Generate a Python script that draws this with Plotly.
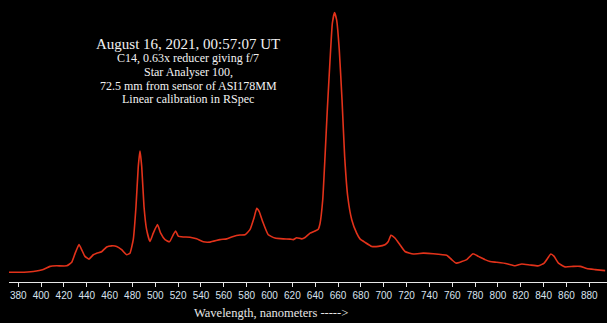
import plotly.graph_objects as go

# Wavelength (nm) and relative intensity
wavelength = [371.9, 381.5, 393.1, 401.9, 407.8, 413.6, 422.4, 426.8, 429.7, 433.2,
              435.5, 438.4, 441.9, 445.7, 448.7, 453.0, 457.4, 461.8, 466.2, 470.5,
              474.9, 477.8, 480.7, 483.1, 485.1, 486.6, 488.1, 490.1, 492.4, 495.3,
              498.2, 501.9, 504.7, 508.5, 512.4, 515.7, 517.8, 520.1, 524.5, 530.4,
              536.2, 542.0, 547.9, 556.6, 562.5, 568.3, 574.1, 578.5, 582.9, 586.4,
              588.8, 591.0, 594.0, 598.9, 604.8, 612.1, 617.9, 620.8, 623.8, 628.2,
              631.1, 635.5, 639.8, 642.7, 644.2, 646.6, 648.6, 650.6, 653.0, 655.0,
              656.9, 658.8, 661.1, 663.5, 665.8, 668.5, 672.0, 676.3, 679.2, 683.6,
              689.5, 695.2, 701.1, 704.0, 706.3, 709.8, 714.2, 718.6, 725.9, 734.6,
              743.4, 755.1, 759.5, 763.3, 768.3, 772.7, 778.2, 782.9, 788.7, 793.1,
              799.0, 807.8, 815.0, 820.9, 828.2, 835.5, 840.5, 843.7, 846.3, 849.2,
              853.0, 858.8, 866.1, 872.0, 877.8, 885.1, 893.9]
intensity = [0.036, 0.036, 0.039, 0.046, 0.058, 0.060, 0.060, 0.073, 0.105, 0.139,
             0.120, 0.095, 0.085, 0.101, 0.107, 0.112, 0.130, 0.134, 0.132, 0.120,
             0.101, 0.107, 0.157, 0.280, 0.428, 0.486, 0.428, 0.280, 0.194, 0.150,
             0.181, 0.213, 0.181, 0.157, 0.149, 0.175, 0.189, 0.170, 0.167, 0.166,
             0.160, 0.149, 0.148, 0.157, 0.160, 0.169, 0.174, 0.175, 0.194, 0.237,
             0.273, 0.261, 0.224, 0.175, 0.163, 0.160, 0.159, 0.157, 0.164, 0.160,
             0.165, 0.181, 0.189, 0.196, 0.216, 0.305, 0.465, 0.638, 0.823, 0.959,
             0.999, 0.971, 0.860, 0.675, 0.465, 0.317, 0.231, 0.181, 0.160, 0.147,
             0.132, 0.132, 0.138, 0.150, 0.173, 0.163, 0.138, 0.113, 0.104, 0.107,
             0.105, 0.099, 0.083, 0.070, 0.076, 0.083, 0.105, 0.095, 0.083, 0.076,
             0.073, 0.068, 0.060, 0.067, 0.063, 0.060, 0.070, 0.089, 0.104, 0.095,
             0.070, 0.056, 0.058, 0.058, 0.050, 0.046, 0.042]

tick_values = list(range(380, 900, 20))
title_lines = [
    "August 16, 2021, 00:57:07 UT",
    "C14, 0.63x reducer giving f/7",
    "Star Analyser 100,",
    "72.5 mm from sensor of ASI178MM",
    "Linear calibration in RSpec",
]
x_title = "Wavelength, nanometers ----->"

fig = go.Figure()
fig.add_trace(go.Scatter(
    x=wavelength, y=intensity, mode="lines",
    line=dict(color="#e2321a", width=1.6, shape="spline", smoothing=0.4),
    hoverinfo="skip", showlegend=False,
))

W, H = 607, 323
ml, mr, mt, mb = 9, 0, 0, 41
pw, ph = W - ml - mr, H - mt - mb

def px(xp):
    return (xp - ml) / pw

def py(yp):
    return 1 - (yp - mt) / ph

annotations = []
line_y = [43.5, 58.5, 72, 85.5, 99]
sizes = [15, 12, 12, 12, 12]
for txt, yy, sz in zip(title_lines, line_y, sizes):
    annotations.append(dict(
        text=txt, xref="paper", yref="paper", x=px(188), y=py(yy),
        xanchor="center", yanchor="middle", showarrow=False,
        font=dict(family="Liberation Serif", size=sz, color="#f2f2f2"),
    ))
annotations.append(dict(
    text=x_title, xref="paper", yref="paper", x=px(271), y=py(313),
    xanchor="center", yanchor="middle", showarrow=False,
    font=dict(family="Liberation Serif", size=12.5, color="#e6e6e6"),
))

fig.update_layout(
    width=W, height=H,
    margin=dict(l=ml, r=mr, t=mt, b=mb, pad=0),
    paper_bgcolor="#000000", plot_bgcolor="#000000",
    xaxis=dict(
        range=[371.9, 895.5], tickmode="array", tickvals=tick_values,
        ticktext=[str(v) for v in tick_values],
        showline=True, linecolor="#e8e8e8", linewidth=1,
        ticks="outside", ticklen=4, tickcolor="#e8e8e8", tickwidth=1,
        showgrid=False, zeroline=False,
        tickfont=dict(family="Liberation Sans", size=10, color="#d8e2ee"),
    ),
    yaxis=dict(range=[0, 1.0456], visible=False, showgrid=False, zeroline=False),
    annotations=annotations,
)

fig.write_html(
    "out.html",
    config={"displayModeBar": False},
    post_script="document.body.style.margin='0';document.body.style.background='#000';",
)
